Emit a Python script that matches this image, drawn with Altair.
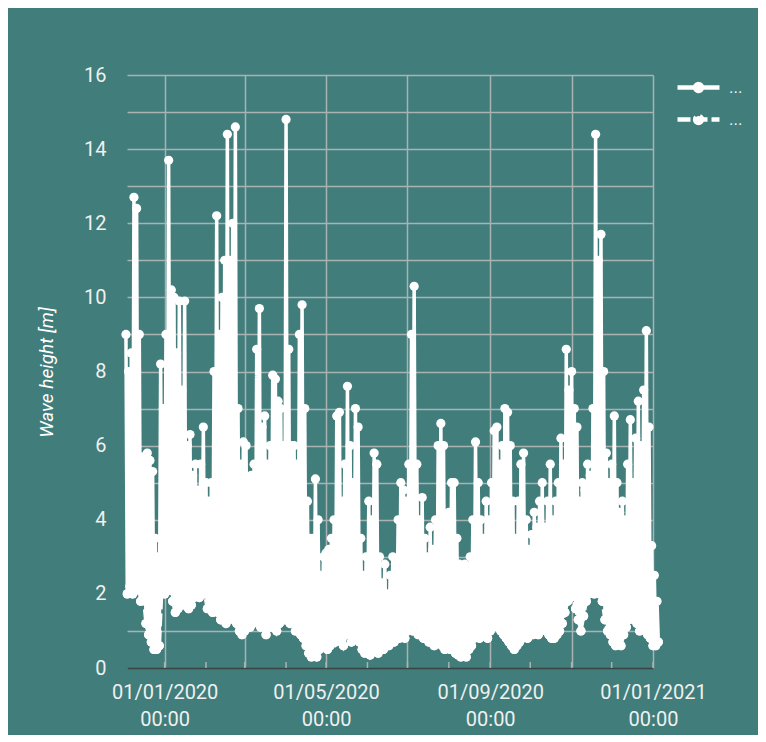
import altair as alt
import pandas as pd

# ---- data (2-day steps starting 2019-12-03) ----
start_date = "2019-12-03"
series_names = ["Series 1", "Series 2"]

hi = [9.0, 8.0, 8.5, 12.7, 12.4, 9.0, 5.7, 5.5, 5.8, 5.6,
      5.3, 3.5, 3.0, 8.2, 7.0, 9.0, 13.7, 10.2, 10.0, 8.5,
      9.9, 7.5, 9.9, 6.0, 6.3, 5.2, 5.5, 4.8, 5.5, 6.5,
      5.0, 4.5, 5.0, 8.0, 12.2, 9.0, 10.0, 11.0, 14.4, 11.0,
      12.0, 14.6, 7.0, 5.5, 6.1, 6.0, 5.0, 5.2, 5.5, 8.6,
      9.7, 6.5, 6.8, 5.5, 6.0, 7.9, 7.8, 7.2, 7.0, 6.0,
      14.8, 8.6, 6.0, 6.0, 5.5, 9.0, 9.8, 7.0, 4.5, 3.5,
      3.5, 5.1, 4.0, 2.5, 3.0, 3.1, 3.2, 3.5, 4.0, 6.8,
      6.9, 4.5, 5.5, 7.6, 6.0, 5.0, 7.0, 6.5, 3.5, 2.5,
      3.0, 4.5, 4.0, 5.8, 5.5, 3.0, 2.3, 2.8, 2.0, 2.5,
      3.0, 2.8, 4.0, 5.0, 4.8, 4.5, 5.5, 9.0, 10.3, 5.5,
      4.0, 4.6, 3.5, 3.0, 3.8, 3.2, 4.0, 6.0, 6.6, 6.0,
      4.0, 4.2, 5.0, 5.0, 3.5, 2.8, 2.6, 2.8, 2.6, 3.0,
      4.0, 6.1, 5.0, 4.0, 3.5, 4.5, 4.0, 5.0, 6.4, 6.5,
      5.5, 6.0, 7.0, 6.9, 6.0, 4.5, 3.5, 4.5, 5.5, 5.8,
      4.0, 3.2, 3.6, 4.2, 3.8, 4.5, 5.0, 3.8, 4.5, 5.5,
      4.0, 4.5, 5.0, 6.2, 5.5, 8.6, 7.5, 8.0, 7.0, 6.5,
      4.5, 5.0, 4.8, 5.5, 5.2, 7.0, 14.4, 11.0, 11.7, 8.0,
      5.8, 5.0, 5.5, 6.8, 5.0, 4.2, 4.5, 4.0, 5.5, 6.7,
      5.0, 6.2, 7.2, 6.0, 7.5, 9.1, 6.5, 3.3, 2.5, 1.8]

lo = [2.0, 2.2, 2.0, 2.1, 2.5, 1.8, 2.0, 1.2, 0.9, 0.7,
      0.5, 0.5, 0.6, 2.2, 2.0, 2.2, 2.1, 1.8, 1.5, 1.6,
      1.8, 1.7, 1.8, 1.6, 1.7, 1.9, 2.2, 1.9, 2.4, 2.0,
      1.6, 1.7, 1.5, 1.7, 1.5, 1.3, 1.4, 1.2, 1.3, 1.5,
      1.3, 1.2, 1.0, 0.9, 1.0, 1.2, 1.1, 1.2, 1.4, 1.3,
      1.1, 1.3, 0.9, 1.2, 1.1, 1.3, 1.0, 1.2, 1.4, 1.3,
      1.5, 1.2, 1.3, 1.0, 1.2, 0.9, 0.8, 0.6, 0.4, 0.3,
      0.5, 0.3, 0.5, 0.6, 0.8, 0.5, 0.6, 0.9, 0.7, 1.0,
      0.8, 0.6, 0.9, 1.0, 0.7, 0.8, 0.9, 0.7, 0.5, 0.4,
      0.5, 0.35, 0.6, 0.5, 0.4, 0.6, 0.5, 0.7, 0.6, 0.8,
      0.7, 0.9, 0.8, 1.0, 0.8, 1.0, 1.1, 1.0, 1.2, 0.9,
      1.0, 0.8, 0.9, 0.7, 0.8, 0.6, 0.7, 0.8, 0.6, 0.5,
      0.6, 0.5, 0.6, 0.4, 0.35, 0.3, 0.4, 0.3, 0.5, 0.6,
      0.8, 0.9, 0.8, 1.0, 0.9, 0.8, 1.0, 1.1, 1.2, 1.1,
      1.0, 0.9, 0.8, 0.7, 0.6, 0.5, 0.6, 0.7, 0.8, 0.9,
      0.8, 1.0, 0.9, 1.0, 0.9, 1.0, 1.1, 1.0, 0.9, 0.8,
      0.8, 0.9, 1.0, 1.2, 1.5, 1.8, 1.9, 2.0, 1.6, 1.3,
      1.0, 1.4, 1.8, 2.0, 2.1, 2.0, 2.1, 2.0, 1.8, 1.3,
      1.0, 0.9, 0.7, 0.6, 0.7, 0.6, 0.9, 1.1, 1.3, 1.4,
      1.3, 1.2, 1.0, 1.1, 1.0, 0.9, 0.8, 0.6, 0.6, 0.7]

month_starts = pd.date_range("2020-01-01", "2021-01-01", freq="MS")

# ---- build table ----
days = pd.date_range(start_date, periods=2 * len(hi), freq="D")
fmt = "%Y-%m-%dT%H:%M:%SZ"
rows = []
for k, (h, l) in enumerate(zip(hi, lo)):
    rows.append({"date": days[2 * k].strftime(fmt), "value": h, "series": series_names[0]})
    rows.append({"date": days[2 * k + 1].strftime(fmt), "value": l, "series": series_names[0]})
for k, l in enumerate(lo):
    rows.append({"date": days[2 * k + 1].strftime(fmt), "value": l, "series": series_names[1]})
df = pd.DataFrame(rows)
months_df = pd.DataFrame({"date": [d.strftime(fmt) for d in month_starts]})

# ---- style ----
BG = "#417D7B"
GRID = "#a9b3b2"
LABEL = "#eef1f0"
FONT = "Roboto"
W, H = 526, 593

x_domain = [alt.DateTime(year=2019, month=12, date=3, hours=19, utc=True),
            alt.DateTime(year=2021, month=1, date=1, utc=True)]
x_values = [alt.DateTime(year=d.year, month=d.month, date=1, utc=True) for d in month_starts]

x_scale = alt.Scale(type="utc", domain=x_domain)
y_scale = alt.Scale(domain=[0, 16], nice=False, zero=True)

x_axis = alt.Axis(
    values=x_values,
    labelExpr="utcmonth(datum.value) % 4 == 0 ? [utcFormat(datum.value, '%d/%m/%Y'), utcFormat(datum.value, '%H:%M')] : ''",
    grid=True,
    gridColor=GRID,
    gridWidth=1.5,
    gridOpacity={"condition": {"test": "utcmonth(datum.value) % 2 == 0", "value": 1}, "value": 0},
    ticks=False,
    tickSize=0,
    domain=True,
    domainColor="#3a4545",
    domainWidth=2,
    labelColor=LABEL,
    labelFont=FONT,
    labelFontSize=20,
    labelLineHeight=27,
    labelPadding=14,
    labelFlush=False,
    labelOverlap=False,
    labelBound=False,
    title=None,
)

y_axis = alt.Axis(
    values=list(range(0, 17)),
    labelExpr="datum.value % 2 == 0 ? datum.label : ''",
    grid=True,
    gridColor=GRID,
    gridWidth=1.5,
    ticks=False,
    tickSize=0,
    domain=False,
    labelColor=LABEL,
    labelFont=FONT,
    labelFontSize=20,
    labelPadding=21,
    labelOverlap=False,
    title="Wave height [m]",
    titleFont=FONT,
    titleFontSize=19,
    titleFontStyle="italic",
    titleFontWeight="normal",
    titleColor="white",
    titleX=-71,
    titleY=297,
)

legend_path = ("M-1.235,0H1.235"
               "M0.2,0A0.2,0.2,0,1,1,-0.2,0A0.2,0.2,0,1,1,0.2,0Z")

legend = alt.Legend(
    orient="none",
    legendX=552,
    legendY=-7,
    title=None,
    symbolType=legend_path,
    symbolSize=1156,
    symbolStrokeWidth=4.5,
    symbolStrokeColor="white",
    symbolFillColor="white",
    symbolOpacity=1,
    labelExpr="'...'",
    labelColor=LABEL,
    labelFont=FONT,
    labelFontSize=17,
    labelOffset=11,
    rowPadding=0,
    padding=0,
)

X = alt.X("date:T", scale=x_scale, axis=x_axis)
Y = alt.Y("value:Q", scale=y_scale, axis=y_axis)

ticks = alt.Chart(months_df).mark_rule(color=GRID, strokeWidth=1.5).encode(
    x=X,
    y=alt.value(H),
    y2=alt.value(H - 6),
)

lines = alt.Chart(df).mark_line(color="white", strokeWidth=3.5).encode(
    x=X,
    y=Y,
    strokeDash=alt.StrokeDash(
        "series:N",
        scale=alt.Scale(domain=series_names, range=[[1, 0], [13, 4]]),
        legend=legend,
    ),
)

points = alt.Chart(df).mark_circle(color="white", size=85, opacity=1).encode(
    x=X,
    y=Y,
)

chart = alt.layer(ticks, lines, points).properties(
    width=W,
    height=H,
    background=BG,
    padding={"left": 119, "top": 67, "right": 105, "bottom": 67},
    autosize=alt.AutoSizeParams(type="none"),
).configure_view(stroke=None)

chart.save("out.html", embed_options={"renderer": "svg", "actions": False})
